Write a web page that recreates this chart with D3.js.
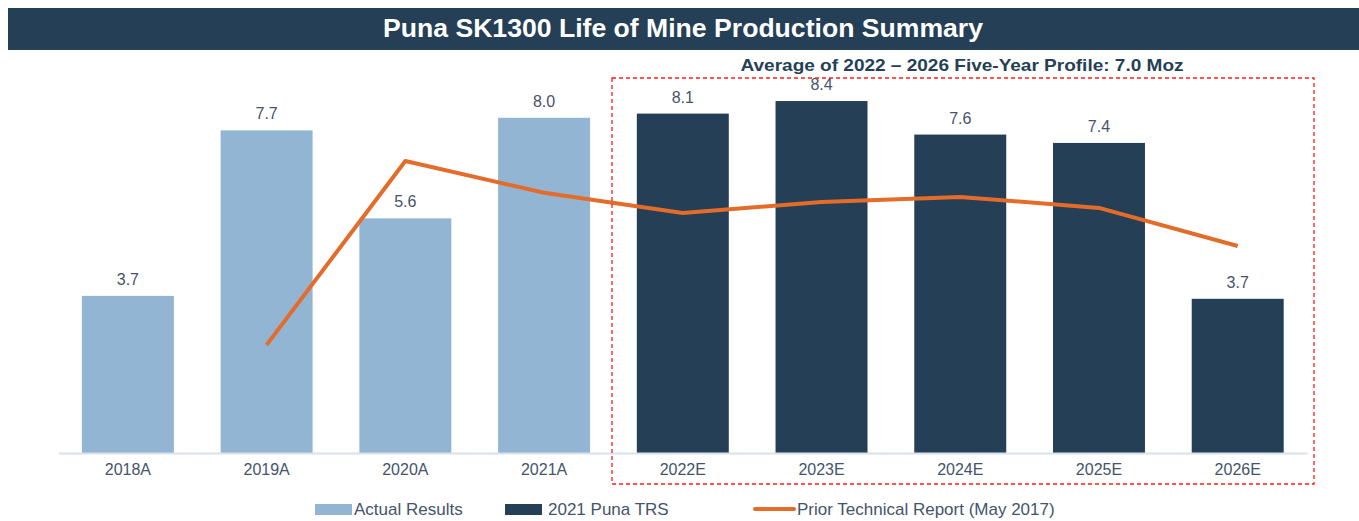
<!DOCTYPE html>
<html lang="en">
  <head>
    <meta charset="UTF-8" />
    <title>Puna SK1300 Life of Mine Production Summary</title>
    <script src="https://d3js.org/d3.v7.min.js"></script>
    <style>
      body {
        margin: 0;
        background: #fff;
      }
      text {
        font-family: "Liberation Sans Narrow", "Arial Narrow", "Liberation Sans", sans-serif;
      }
    </style>
  </head>
  <body>
    <svg width="1359" height="521"></svg>
    <script>
      // data
      const years = ["2018A", "2019A", "2020A", "2021A", "2022E", "2023E", "2024E", "2025E", "2026E"];
      const production = [3.75, 7.7, 5.6, 8.0, 8.1, 8.4, 7.6, 7.4, 3.68];
      const valueLabels = ["3.7", "7.7", "5.6", "8.0", "8.1", "8.4", "7.6", "7.4", "3.7"];
      const isActual = [true, true, true, true, false, false, false, false, false];
      // prior technical report, starts in 2019
      const priorYears = ["2019A", "2020A", "2021A", "2022E", "2023E", "2024E", "2025E", "2026E"];
      const priorValues = [2.58, 6.97, 6.21, 5.73, 5.99, 6.11, 5.85, 4.94];

      const colActual = "#92b5d3",
        colTRS = "#243f56",
        colLine = "#e46c2a",
        colText = "#44546a";

      const svg = d3.select("svg");
      const W = 1359;

      // title band
      svg.append("rect").attr("x", 8).attr("y", 8).attr("width", W - 8).attr("height", 42).attr("fill", "#243f56");
      svg
        .append("text")
        .attr("x", 683)
        .attr("y", 37)
        .attr("text-anchor", "middle")
        .attr("fill", "#fff")
        .attr("font-size", 26)
        .attr("font-weight", "bold")
        .attr("textLength", 600)
        .attr("lengthAdjust", "spacingAndGlyphs")
        .text("Puna SK1300 Life of Mine Production Summary");

      const x = d3.scaleBand().domain(years).range([58.6, 1307]).paddingInner(0.337).paddingOuter(0.168);
      const y = d3.scaleLinear().domain([0, 10]).range([453, 34]);

      // bars
      svg
        .append("g")
        .selectAll("rect")
        .data(years)
        .join("rect")
        .attr("x", (d) => x(d))
        .attr("y", (d, i) => y(production[i]))
        .attr("width", x.bandwidth())
        .attr("height", (d, i) => y(0) - y(production[i]))
        .attr("fill", (d, i) => (isActual[i] ? colActual : colTRS));

      // value labels
      svg
        .append("g")
        .selectAll("text")
        .data(years)
        .join("text")
        .attr("x", (d) => x(d) + x.bandwidth() / 2)
        .attr("y", (d, i) => y(production[i]) - 11)
        .attr("text-anchor", "middle")
        .attr("fill", colText)
        .attr("font-size", 16)
        .text((d, i) => valueLabels[i]);

      // x axis
      const xAxis = svg
        .append("g")
        .attr("transform", "translate(0,453)")
        .call(d3.axisBottom(x).tickSize(0).tickPadding(11));
      xAxis.select(".domain").attr("stroke", "#d9e1ea").attr("stroke-width", 2);
      xAxis.selectAll("text").attr("fill", colText).attr("font-size", 16).style("font-family", null);

      // prior technical report line
      const line = d3
        .line()
        .x((d) => x(d[0]) + x.bandwidth() / 2)
        .y((d) => y(d[1]));
      svg
        .append("path")
        .datum(priorYears.map((d, i) => [d, priorValues[i]]))
        .attr("d", line)
        .attr("fill", "none")
        .attr("stroke", colLine)
        .attr("stroke-width", 4)
        .attr("stroke-linejoin", "round");

      // five-year box
      svg
        .append("rect")
        .attr("x", 612)
        .attr("y", 78)
        .attr("width", 702)
        .attr("height", 406)
        .attr("fill", "none")
        .attr("stroke", "#ff1a1a")
        .attr("stroke-width", 1.3)
        .attr("stroke-dasharray", "4,3");
      svg
        .append("text")
        .attr("x", 962)
        .attr("y", 71)
        .attr("text-anchor", "middle")
        .attr("fill", "#243f56")
        .attr("font-size", 17)
        .attr("font-weight", "bold")
        .attr("textLength", 443)
        .attr("lengthAdjust", "spacingAndGlyphs")
        .text("Average of 2022 \u2013 2026 Five-Year Profile: 7.0 Moz");

      // legend
      const legend = [
        { label: "Actual Results", type: "bar", color: colActual, x: 315, tx: 39 },
        { label: "2021 Puna TRS", type: "bar", color: colTRS, x: 505, tx: 43 },
        { label: "Prior Technical Report (May 2017)", type: "line", color: colLine, x: 753, tx: 44 },
      ];
      const lg = svg
        .append("g")
        .selectAll("g")
        .data(legend)
        .join("g")
        .attr("transform", (d) => `translate(${d.x},509)`);
      lg.each(function (d) {
        const g = d3.select(this);
        if (d.type === "bar") {
          g.append("rect").attr("x", 0).attr("y", -5).attr("width", 37).attr("height", 11).attr("fill", d.color);
        } else {
          g.append("line").attr("x1", 2).attr("x2", 41).attr("y1", 0).attr("y2", 0).attr("stroke", d.color).attr("stroke-width", 4).attr("stroke-linecap", "round");
        }
        g.append("text").attr("x", d.tx).attr("y", 6).attr("fill", colText).attr("font-size", 17).text(d.label);
      });
    </script>
  </body>
</html>
